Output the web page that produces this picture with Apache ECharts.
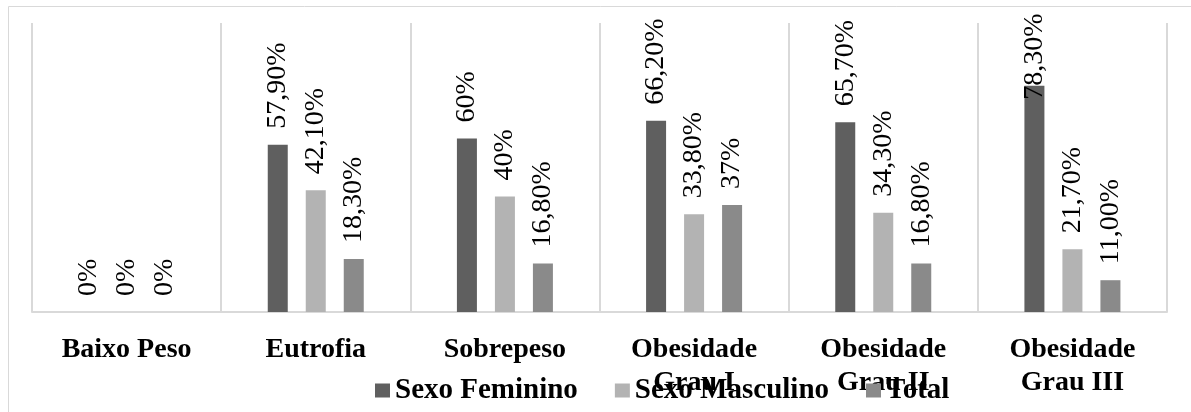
<!DOCTYPE html>
<html lang="pt">
<head>
<meta charset="UTF-8">
<title>Estado nutricional por sexo</title>
<script src="https://cdn.jsdelivr.net/npm/echarts@6/dist/echarts.min.js"></script>
<style>
  html, body { margin: 0; padding: 0; background: #fff; }
  #main { width: 1191px; height: 412px; }
</style>
</head>
<body>
<div id="main"></div>
<script>
var categories = ['Baixo Peso', 'Eutrofia', 'Sobrepeso', 'Obesidade\nGrau I', 'Obesidade\nGrau II', 'Obesidade\nGrau III'];
var seriesNames = ['Sexo Feminino', 'Sexo Masculino', 'Total'];
var feminino = [0, 57.9, 60, 66.2, 65.7, 78.3];
var masculino = [0, 42.1, 40, 33.8, 34.3, 21.7];
var total = [0, 18.3, 16.8, 37, 16.8, 11.0];
// labels as printed in the original (Portuguese decimal comma)
var femininoLabels = ['0%', '57,90%', '60%', '66,20%', '65,70%', '78,30%'];
var masculinoLabels = ['0%', '42,10%', '40%', '33,80%', '34,30%', '21,70%'];
var totalLabels = ['0%', '18,30%', '16,80%', '37%', '16,80%', '11,00%'];

var colors = ['#5f5f5f', '#b3b3b3', '#8a8a8a'];
var serif = '"Liberation Serif", "Times New Roman", serif';

function buildData(values, labels) {
  return values.map(function (v, i) {
    var item = { value: v, labelText: labels[i] };
    // tall bars: the label would leave the frame, pull it down onto the bar
    if (v > 75) item.label = { distance: -14 };
    return item;
  });
}

function makeSeries(name, values, labels, color) {
  return {
    name: name,
    type: 'bar',
    barWidth: 20,
    barGap: '90%',
    itemStyle: { color: color },
    label: {
      show: true,
      position: 'top',
      rotate: 90,
      align: 'left',
      verticalAlign: 'middle',
      distance: 16,
      color: '#000',
      fontFamily: serif,
      fontSize: 28,
      formatter: function (p) { return p.data.labelText; }
    },
    data: buildData(values, labels)
  };
}

var chart = echarts.init(document.getElementById('main'));
chart.setOption({
  animation: false,
  color: colors,
  graphic: [{
    type: 'rect',
    silent: true,
    shape: { x: 8.5, y: 6.5, width: 1300, height: 500 },
    style: { fill: 'none', stroke: '#d9d9d9', lineWidth: 1 }
  }],
  grid: { left: 32, right: 24, top: 23, bottom: 100 },
  legend: {
    data: seriesNames,
    left: 375,
    top: 376,
    padding: 0,
    icon: 'rect',
    itemWidth: 15,
    itemHeight: 14,
    itemGap: 37,
    textStyle: { fontFamily: serif, fontSize: 29, fontWeight: 'bold', color: '#000' }
  },
  xAxis: {
    type: 'category',
    data: categories,
    axisLine: { lineStyle: { color: '#d9d9d9', width: 2 } },
    axisTick: { show: false },
    splitLine: { show: true, lineStyle: { color: '#d9d9d9', width: 2 } },
    axisLabel: {
      interval: 0,
      margin: 21,
      color: '#000',
      fontFamily: serif,
      fontSize: 28,
      fontWeight: 'bold',
      lineHeight: 33
    }
  },
  yAxis: {
    type: 'value',
    min: 0,
    max: 100,
    show: false,
    splitLine: { show: false }
  },
  series: [
    makeSeries(seriesNames[0], feminino, femininoLabels, colors[0]),
    makeSeries(seriesNames[1], masculino, masculinoLabels, colors[1]),
    makeSeries(seriesNames[2], total, totalLabels, colors[2])
  ]
});
</script>
</body>
</html>
